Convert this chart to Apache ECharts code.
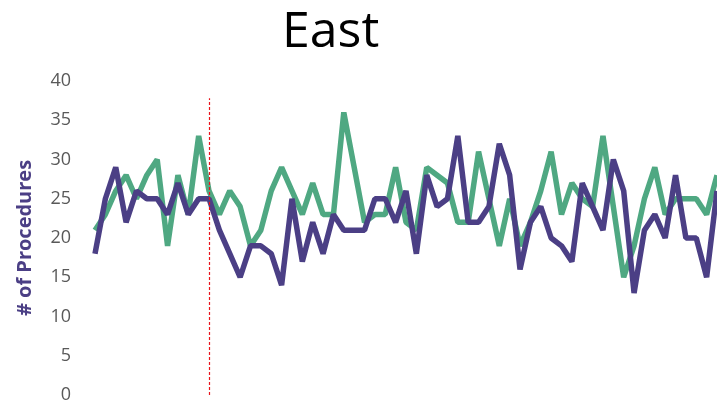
<!DOCTYPE html>
<html>
<head>
<meta charset="utf-8">
<script src="https://cdn.jsdelivr.net/npm/echarts@6/dist/echarts.min.js"></script>
<style>
html,body{margin:0;padding:0;background:#fff;}
#chart{width:717px;height:406px;}
</style>
</head>
<body>
<div id="chart"></div>
<script>
const chartTitle = 'East';
const yAxisTitle = '# of Procedures';
const categories = Array.from({length: 61}, (_, i) => String(i + 1));
const greenValues = [21,23,26,28,25,28,30,19,28,23,33,26,23,26,24,19,21,26,29,26,23,27,23,23,36,29,22,23,23,29,22,21,29,28,27,22,22,31,25,19,25,19,22,26,31,23,27,25,24,33,24,15,19,25,29,23,25,25,25,23,28];
const purpleValues = [18,25,29,22,26,25,25,23,27,23,25,25,21,18,15,19,19,18,14,25,17,22,18,23,21,21,21,25,25,22,26,18,28,24,25,33,22,22,24,32,28,16,22,24,20,19,17,27,24,21,30,26,13,21,23,20,28,20,20,15,26];
const yTicks = [0,5,10,15,20,25,30,35,40];
const markerIndex = 11;
const markerTop = 37.8;

const markerStyle = {color: '#E8141C', type: [3, 2], width: 1.2, opacity: 1};

const chart = echarts.init(document.getElementById('chart'));
chart.setOption({
  animation: false,
  backgroundColor: '#ffffff',
  title: {
    text: chartTitle,
    left: 277,
    top: 3,
    textStyle: {fontFamily: 'Open Sans', fontSize: 50, fontWeight: 'normal', color: '#000000'}
  },
  grid: {left: 95, top: 81, width: 625.2, bottom: 11, containLabel: false},
  xAxis: {
    type: 'category',
    data: categories,
    boundaryGap: false,
    axisLine: {show: false},
    axisTick: {show: false},
    axisLabel: {show: false},
    splitLine: {show: false}
  },
  yAxis: {
    type: 'value',
    min: yTicks[0],
    max: yTicks[yTicks.length - 1],
    interval: 5,
    name: yAxisTitle,
    nameLocation: 'middle',
    nameGap: 60,
    nameTextStyle: {fontFamily: 'Open Sans', fontSize: 20, fontWeight: 'bold', color: '#4B3F85'},
    axisLine: {show: false},
    axisTick: {show: false},
    splitLine: {show: false},
    axisLabel: {margin: 24, fontFamily: 'Open Sans', fontSize: 18, color: '#595959'}
  },
  series: [
    {
      type: 'line',
      data: greenValues,
      symbol: 'none',
      lineStyle: {color: '#4FA882', width: 5.5},
      itemStyle: {color: '#4FA882'},
      z: 2
    },
    {
      type: 'line',
      data: purpleValues,
      symbol: 'none',
      lineStyle: {color: '#4B3F85', width: 5.5},
      itemStyle: {color: '#4B3F85'},
      z: 3,
      markLine: {
        silent: true,
        symbol: 'none',
        label: {show: false},
        itemStyle: {color: '#E8141C'},
        lineStyle: markerStyle,
        emphasis: {disabled: true},
        data: [[
          {coord: [markerIndex, 0], lineStyle: markerStyle, itemStyle: {color: '#E8141C'}},
          {coord: [markerIndex, markerTop]}
        ]]
      }
    }
  ]
});
</script>
</body>
</html>
